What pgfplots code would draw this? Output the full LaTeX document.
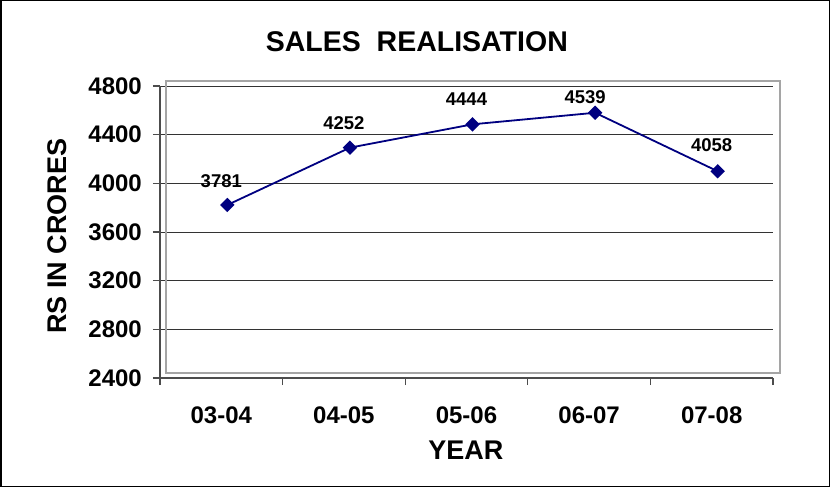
\documentclass[border=0pt]{standalone}
\usepackage{fontspec}
\setmainfont{Liberation Sans}
\usepackage{pgfplots}
\pgfplotsset{compat=1.18}
\definecolor{navyline}{RGB}{0,0,128}
\definecolor{wallgray}{RGB}{165,165,165}

\begin{document}
\begin{tikzpicture}
\useasboundingbox (0,0) rectangle (830bp,487bp);
\draw[line width=1.5bp] (0.75bp,0.75bp) rectangle (829.25bp,486.25bp);
\begin{axis}[
    at={(160bp,109bp)}, anchor=south west,
    scale only axis, width=613bp, height=292bp,
    xmin=0.5, xmax=5.5, ymin=2400, ymax=4800,
    axis x line*=bottom, axis y line*=left,
    axis line style={-, line width=1.5bp, black!70},
    /pgf/number format/1000 sep={},
    /pgf/number format/assume math mode=true,
    xtick={0.5,1.5,2.5,3.5,4.5,5.5}, xticklabel=\empty,
    extra x ticks={1,2,3,4,5},
    extra x tick labels={03-04,04-05,05-06,06-07,07-08},
    extra x tick style={major tick length=0pt, grid=none,
        xticklabel style={anchor=base, yshift=-45bp}},
    ytick={2400,2800,...,4800},
    tick align=outside, major tick length=7bp,
    tick style={black!70, line width=1.2bp},
    ymajorgrids, grid style={black!80, line width=0.9bp},
    tick label style={font=\fontsize{24bp}{24bp}\selectfont\bfseries},
    yticklabel style={anchor=east, inner sep=0pt, xshift=-11bp},
    title={SALES\ \ REALISATION},
    title style={at={(axis description cs:0.419,1.0993)}, anchor=base, inner sep=0pt,
        font=\fontsize{28.5bp}{28.5bp}\selectfont\bfseries},
    xlabel={YEAR},
    xlabel style={at={(axis description cs:0.499,-0.2808)}, anchor=base, inner sep=0pt,
        font=\fontsize{27bp}{27bp}\selectfont\bfseries},
    ylabel={RS IN CRORES},
    ylabel style={at={(axis description cs:-0.1533,0.486)}, anchor=base, inner sep=0pt,
        font=\fontsize{27bp}{27bp}\selectfont\bfseries},
    clip=false,
]
% back wall of the chart (3-D look)
\draw[wallgray, line width=2bp] ([xshift=6bp,yshift=5bp]rel axis cs:0,0) rectangle ([xshift=7bp,yshift=5bp]rel axis cs:1,1);
\addplot[navyline, line width=1.8bp, mark=square*, mark size=4.2bp,
    mark options={rotate=45, fill=navyline},
    xshift=6bp, yshift=5bp,
    visualization depends on={\thisrow{dx} \as \dx},
    visualization depends on={\thisrow{dy} \as \dy},
    nodes near coords,
    nodes near coords style={font=\fontsize{18.5bp}{18.5bp}\selectfont\bfseries,
        text=black, anchor=south, inner sep=0pt,
        xshift={\dx*1bp}, yshift={\dy*1bp}}]
  table[x=x, y=y] {
x y    dx  dy
1 3781 -6  16.5
2 4252 -6  17.5
3 4444 -6  17.5
4 4539 -10 8.5
5 4058 -6  18.5
};
\end{axis}
\end{tikzpicture}
\end{document}
